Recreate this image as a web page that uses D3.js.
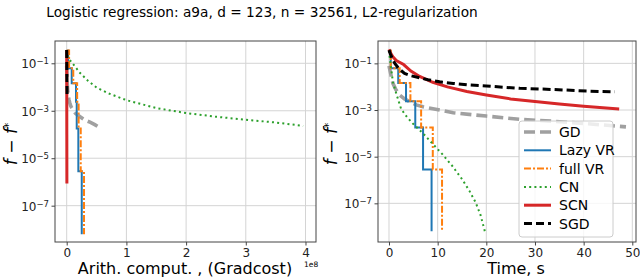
<!DOCTYPE html>
<html>
<head>
<meta charset="utf-8">
<script src="https://cdn.jsdelivr.net/npm/d3@7"></script>
<style>
  body { margin: 0; background: #fff; }
  svg { display: block; font-family: "DejaVu Sans", sans-serif; }
</style>
</head>
<body>
<svg id="chart" width="640" height="279"></svg>
<script>
// values (f - f* against work / time)
var gdGap        = [7.9e-2, 3.2e-2, 1.4e-2, 7.6e-3, 4.4e-3, 3.0e-3, 2.24e-3, 1.66e-3, 1.38e-3, 1.0e-3, 7.6e-4, 5.5e-4, 4.0e-4, 3.3e-4, 2.6e-4, 1.9e-4];
var gdTime       = [0, 0.4, 0.8, 1.4, 2.2, 3.2, 4.3, 5.6, 7.0, 10.4, 13.2, 20, 26.9, 33.7, 40.6, 48.7];
var gdGradcost   = [0, 5e5, 1e6, 1.6e6, 2.5e6, 3.7e6, 5e6, 6.5e6, 8e6, 1.2e7, 1.5e7, 2.3e7, 3.1e7, 3.9e7, 4.7e7, 5.6e7];

var vrGap        = [3.5e-1, 3.5e-1, 6.2e-2, 6.2e-2, 1.45e-2, 1.45e-2, 2.4e-3, 2.4e-3, 1.8e-4, 1.8e-4, 2.8e-6, 2.8e-6, 6.3e-9];
var lazyGradcost = [0, 2.5e6, 2.5e6, 8.4e6, 8.4e6, 1.56e7, 1.56e7, 1.68e7, 1.68e7, 1.95e7, 1.95e7, 2.52e7, 2.52e7];
var lazyTime     = [0, 0.35, 0.35, 1.9, 1.9, 3.5, 3.5, 5.4, 5.4, 7.0, 7.0, 8.75, 8.75];
var fullGradcost = [0, 4e6, 4e6, 1.1e7, 1.1e7, 1.75e7, 1.75e7, 2.0e7, 2.0e7, 2.35e7, 2.35e7, 2.9e7, 2.9e7];
var fullTime     = [0, 0.35, 0.35, 2.2, 2.2, 4.4, 4.4, 6.6, 6.6, 9.0, 9.0, 10.9, 10.9];

var cnGradcost   = [0, 3e6, 8.4e6, 2.2e7, 3.6e7, 5e7, 7e7, 1e8, 1.5e8, 2e8, 2.5e8, 3e8, 3.5e8, 3.96e8];
var cnGapL       = [3.5e-1, 1.6e-1, 1.1e-1, 4e-2, 1.8e-2, 9.5e-3, 5.4e-3, 2.8e-3, 1.3e-3, 8e-4, 5.6e-4, 4.2e-4, 3.2e-4, 2.3e-4];
var cnTime       = [0, 0.3, 0.8, 1.5, 2.5, 3.7, 5.0, 7.0, 9.0, 11.0, 13.0, 15.0, 16.5, 17.8, 18.8, 19.7];
var cnGapR       = [3.5e-1, 1e-1, 1.6e-2, 5e-3, 1.1e-3, 5e-4, 2.5e-4, 1e-4, 3.5e-5, 1.26e-5, 4e-6, 1.1e-6, 3.5e-7, 1.1e-7, 3.2e-8, 6.3e-9];

var scnGradcost  = [0, 1e5, 2e5, 3e5];
var scnGapL      = [3.6e-1, 1e-2, 1e-4, 8.7e-7];
var scnTime      = [0, 0.3, 0.8, 1.5, 3, 4.5, 6.3, 9, 12, 16, 20, 25, 30, 35, 40, 47.3];
var scnGapR      = [0.398, 0.282, 0.19, 0.132, 0.089, 0.047, 0.0275, 0.0155, 0.0098, 0.0062, 0.0044, 0.003, 0.0023, 0.0018, 0.00145, 0.0011];

var sgdGradcost  = [0, 2e5, 4e5, 6e5];
var sgdGapL      = [3.6e-1, 6e-2, 1.5e-2, 5e-3];
var sgdTime      = [0, 0.3, 0.8, 1.2, 2.0, 3.2, 4.5, 6.3, 8, 10.4, 13.2, 16, 20, 26.9, 33.7, 40.6, 46.4];
var sgdGapR      = [0.37, 0.25, 0.14, 0.1, 0.06, 0.037, 0.0295, 0.024, 0.02, 0.0162, 0.0138, 0.012, 0.0107, 0.0085, 0.0076, 0.0065, 0.006];

var gradTicks = [0, 1e8, 2e8, 3e8, 4e8];
var timeTicks = [0, 10, 20, 30, 40, 50];
var logTicks  = [1e-1, 1e-3, 1e-5, 1e-7];
var logTickExp = ["\u22121", "\u22123", "\u22125", "\u22127"];

var methods = [
  {name: "GD",      color: "#a0a0a0", width: 3.6, dash: "11,5",     left: [gdGradcost, gdGap],     right: [gdTime, gdGap]},
  {name: "Lazy VR", color: "#1f77b4", width: 2,   dash: null,       left: [lazyGradcost, vrGap],   right: [lazyTime, vrGap]},
  {name: "full VR", color: "#ff7f0e", width: 2,   dash: "7,2,2,2",  left: [fullGradcost, vrGap],   right: [fullTime, vrGap]},
  {name: "CN",      color: "#2ca02c", width: 2,   dash: "2,3.2",    left: [cnGradcost, cnGapL],    right: [cnTime, cnGapR]},
  {name: "SCN",     color: "#d62728", width: 3,   dash: null,       left: [scnGradcost, scnGapL],  right: [scnTime, scnGapR]},
  {name: "SGD",     color: "#000000", width: 3,   dash: "8,4",      left: [sgdGradcost, sgdGapL],  right: [sgdTime, sgdGapR]}
];

var svg = d3.select("#chart");

svg.append("text")
  .attr("x", 262).attr("y", 17)
  .attr("text-anchor", "middle")
  .style("font-size", "13.7px")
  .text("Logistic regression: a9a, d = 123, n = 32561, L2-regularization");

function panel(opt) {
  var g = svg.append("g");
  var x = d3.scaleLinear().domain(opt.xDomain).range([opt.left, opt.right]);
  var y = d3.scaleLog().domain(opt.yDomain).range([opt.top, opt.bottom]);

  // grid
  g.selectAll(".gx").data(opt.xTicks).enter().append("line")
    .attr("x1", function(d){ return x(d); }).attr("x2", function(d){ return x(d); })
    .attr("y1", opt.top).attr("y2", opt.bottom)
    .style("stroke", "#d4d4d4").style("stroke-width", 1);
  g.selectAll(".gy").data(logTicks).enter().append("line")
    .attr("y1", function(d){ return y(d); }).attr("y2", function(d){ return y(d); })
    .attr("x1", opt.left).attr("x2", opt.right)
    .style("stroke", "#d4d4d4").style("stroke-width", 1);

  var clipId = "clip" + opt.key;
  svg.append("clipPath").attr("id", clipId).append("rect")
    .attr("x", opt.left).attr("y", opt.top)
    .attr("width", opt.right - opt.left).attr("height", opt.bottom - opt.top);

  var line = d3.line()
    .x(function(d){ return x(d[0]); })
    .y(function(d){ return y(d[1]); });

  var lines = g.append("g").attr("clip-path", "url(#" + clipId + ")");
  methods.forEach(function(m) {
    var pair = m[opt.key];
    lines.append("path")
      .datum(d3.zip(pair[0], pair[1]))
      .attr("d", line)
      .style("fill", "none")
      .style("stroke", m.color)
      .style("stroke-width", m.width)
      .style("stroke-dasharray", m.dash);
  });

  // axes
  var xAxis = g.append("g").attr("transform", "translate(0," + opt.bottom + ")")
    .call(d3.axisBottom(x).tickValues(opt.xTicks).tickSize(3.5).tickPadding(2.5).tickFormat(opt.xFormat));
  xAxis.select(".domain").remove();
  xAxis.selectAll("text").style("font-size", "12px").style("fill", "#222").style("font-family", "DejaVu Sans");
  xAxis.selectAll("line").style("stroke", "#444");

  var yAxis = g.append("g").attr("transform", "translate(" + opt.left + ",0)")
    .call(d3.axisLeft(y).tickValues(logTicks).tickSize(3.5).tickFormat(""));
  yAxis.select(".domain").remove();
  yAxis.selectAll("line").style("stroke", "#444");
  yAxis.selectAll(".tick").each(function(d, i) {
    var t = d3.select(this).append("text")
      .attr("x", -6).attr("dy", "0.36em")
      .attr("text-anchor", "end")
      .style("font-size", "12px").style("fill", "#222").style("font-family", "DejaVu Sans");
    t.append("tspan").text("10");
    t.append("tspan").attr("dy", "-0.45em").style("font-size", "8.5px").text(logTickExp[i]);
  });

  g.append("rect")
    .attr("x", opt.left).attr("y", opt.top)
    .attr("width", opt.right - opt.left).attr("height", opt.bottom - opt.top)
    .style("fill", "none").style("stroke", "#444").style("stroke-width", 1);

  // labels
  g.append("text")
    .attr("x", opt.xLabelX).attr("y", 274)
    .attr("text-anchor", "middle")
    .style("font-size", "16px")
    .text(opt.xLabel);

  var yl = g.append("text")
    .attr("transform", "translate(" + opt.yLabelX + ",144) rotate(-90)")
    .attr("text-anchor", "middle")
    .style("font-size", "17px");
  yl.append("tspan").style("font-style", "italic").text("f");
  yl.append("tspan").text(" \u2212 ");
  yl.append("tspan").style("font-style", "italic").text("f");
  yl.append("tspan").attr("dy", "-0.5em").style("font-size", "10.5px").text("*");
}

panel({
  key: "left", left: 55, right: 316, top: 41, bottom: 242,
  xDomain: [-0.196e8, 4.176e8], yDomain: [0.87, 2.95e-9],
  xTicks: gradTicks, xFormat: function(d){ return d3.format("d")(d / 1e8); },
  xLabel: "Arith. comput. , (Gradcost)", xLabelX: 185, yLabelX: 17
});
svg.append("text").attr("x", 304).attr("y", 267).style("font-size", "7.5px").text("1e8");

panel({
  key: "right", left: 378, right: 636, top: 41, bottom: 242,
  xDomain: [-2.26, 50.76], yDomain: [0.91, 2.2e-9],
  xTicks: timeTicks, xFormat: d3.format("d"),
  xLabel: "Time, s", xLabelX: 516, yLabelX: 337
});

// legend
var lg = svg.append("g");
lg.append("rect")
  .attr("x", 519).attr("y", 121).attr("width", 94).attr("height", 116)
  .attr("rx", 3)
  .style("fill", "#fff").style("fill-opacity", 0.8)
  .style("stroke", "#cccccc").style("stroke-width", 1);
methods.forEach(function(m, i) {
  var yy = 132 + i * 18.3;
  lg.append("line")
    .attr("x1", 524).attr("x2", 551).attr("y1", yy).attr("y2", yy)
    .style("stroke", m.color).style("stroke-width", m.width)
    .style("stroke-dasharray", m.dash);
  lg.append("text")
    .attr("x", 559).attr("y", yy).attr("dy", "0.36em")
    .style("font-size", "14px")
    .text(m.name);
});
</script>
</body>
</html>
